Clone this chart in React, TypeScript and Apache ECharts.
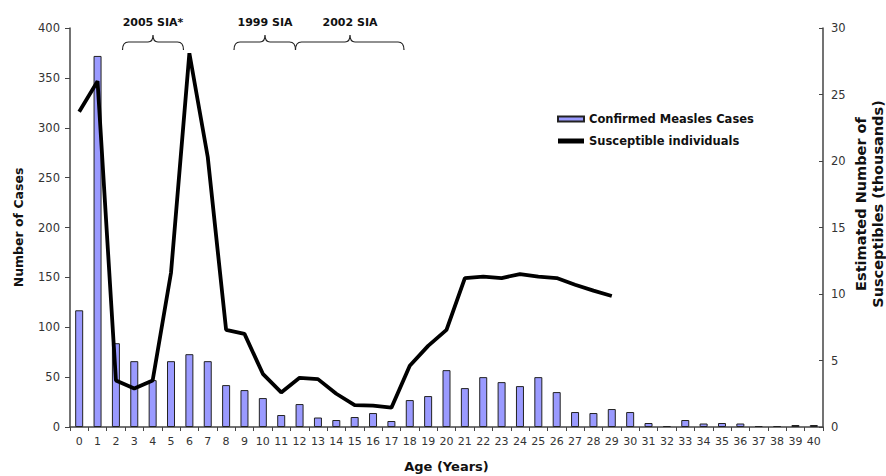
import React, { useEffect, useRef } from "react";
import * as echarts from "echarts";

// Age in years (x axis categories)
const ages: string[] = Array.from({ length: 41 }, (_, i) => String(i));

// Confirmed measles cases by age
const confirmedCases: number[] = [
  117, 372, 84, 66, 47, 66, 73, 66, 42, 37,
  29, 12, 23, 9.5, 7, 10, 14, 6, 27, 31,
  57, 39, 50, 45, 41, 50, 35, 15, 14, 18,
  15, 4, 1, 7, 3.5, 4, 3.5, 1, 1, 2, 2,
];

// Estimated susceptible individuals (thousands), ages 0–29
const susceptibles: (number | null)[] = [
  23.7, 26.0, 3.5, 2.9, 3.5, 11.6, 28.1, 20.3, 7.3, 7.0,
  4.0, 2.6, 3.7, 3.6, 2.5, 1.65, 1.6, 1.45, 4.6, 6.1,
  7.3, 11.2, 11.3, 11.2, 11.5, 11.3, 11.2, 10.7, 10.25, 9.85,
];

// Campaign annotations: label, brace start, tip, end (px)
const campaigns = [
  { label: "2005 SIA*", x1: 122.5, xm: 153, x2: 183.5 },
  { label: "1999 SIA", x1: 234, xm: 265, x2: 295.5 },
  { label: "2002 SIA", x1: 295.5, xm: 350, x2: 404 },
];

const RIGHT_TITLE = "Estimated Number of\nSusceptibles (thousands)";

const FONT = "'DejaVu Sans', 'Liberation Sans', Arial, sans-serif";

function bracePath(x1: number, xm: number, x2: number): string {
  const yEnd = 50;
  const yMid = 42;
  const yTip = 35;
  return (
    `M${x1} ${yEnd} Q${x1} ${yMid} ${x1 + 6} ${yMid} ` +
    `L${xm - 5} ${yMid} Q${xm} ${yMid} ${xm} ${yTip} ` +
    `Q${xm} ${yMid} ${xm + 5} ${yMid} ` +
    `L${x2 - 6} ${yMid} Q${x2} ${yMid} ${x2} ${yEnd}`
  );
}

campaigns.forEach((c, i) => {
  echarts.graphic.registerShape(
    `brace${i}`,
    echarts.graphic.extendPath(bracePath(c.x1, c.xm, c.x2), {}) as any
  );
});

export default function App() {
  const ref = useRef<HTMLDivElement>(null);

  useEffect(() => {
    document.body.style.margin = "0";
    document.body.style.overflow = "hidden";
    if (!ref.current) return;
    const chart = echarts.init(ref.current, undefined, { renderer: "svg" });

    const axisLine = { show: true, lineStyle: { color: "#444", width: 1.5 } };
    const axisLabel = { color: "#333", fontSize: 11.5, fontFamily: FONT };
    const nameStyle = {
      color: "#111",
      fontSize: 12.5,
      fontWeight: "bold" as const,
      fontFamily: FONT,
    };

    const graphics: any[] = [];
    campaigns.forEach((c, i) => {
      graphics.push({
        type: `brace${i}`,
        x: 0,
        y: 0,
        style: { fill: "none", stroke: "#222", lineWidth: 1.2 },
      });
      graphics.push({
        type: "text",
        x: c.xm,
        y: 22,
        style: {
          text: c.label,
          fill: "#111",
          font: `bold 11px ${FONT}`,
          textAlign: "center",
          textVerticalAlign: "middle",
        },
      });
    });

    // Right-hand axis title, two rotated lines
    graphics.push({
      type: "text",
      x: 869.5,
      y: 204,
      rotation: Math.PI / 2,
      style: {
        text: RIGHT_TITLE,
        fill: "#111",
        font: `bold 14.5px ${FONT}`,
        lineHeight: 17,
        textAlign: "center",
        textVerticalAlign: "middle",
      },
    });

    chart.setOption({
      animation: false,
      backgroundColor: "#ffffff",
      grid: {
        left: 70,
        right: 63,
        top: 28,
        bottom: 49,
        containLabel: false,
        outerBoundsMode: "none",
      },
      legend: {
        orient: "vertical",
        left: 557,
        top: 113,
        padding: 0,
        itemGap: 10,
        itemWidth: 26,
        itemHeight: 5,
        textStyle: {
          color: "#111",
          fontSize: 11.5,
          fontWeight: "bold",
          fontFamily: FONT,
        },
        data: [
          { name: "Confirmed Measles Cases", icon: "rect" },
          { name: "Susceptible individuals", icon: "rect" },
        ],
      },
      xAxis: {
        type: "category",
        data: ages,
        boundaryGap: true,
        name: "Age (Years)",
        nameLocation: "middle",
        nameGap: 33,
        nameTextStyle: { ...nameStyle, fontSize: 13 },
        axisLine,
        axisTick: { show: true, length: 4, lineStyle: { color: "#444" } },
        axisLabel: { ...axisLabel, fontSize: 11, interval: 0, margin: 9 },
        splitLine: { show: false },
      },
      yAxis: [
        {
          type: "value",
          min: 0,
          max: 400,
          interval: 50,
          name: "Number of Cases",
          nameLocation: "middle",
          nameGap: 45,
          nameRotate: 90,
          nameTextStyle: nameStyle,
          axisLine,
          axisTick: { show: true, length: 5, lineStyle: { color: "#444" } },
          axisLabel: { ...axisLabel, margin: 10 },
          splitLine: { show: false },
        },
        {
          type: "value",
          min: 0,
          max: 30,
          interval: 5,
          position: "right",
          axisLine,
          axisTick: {
            show: true,
            inside: true,
            length: 4,
            lineStyle: { color: "#444" },
          },
          axisLabel: { ...axisLabel, margin: 8 },
          splitLine: { show: false },
        },
      ],
      series: [
        {
          name: "Confirmed Measles Cases",
          type: "bar",
          yAxisIndex: 0,
          data: confirmedCases,
          barWidth: 8,
          itemStyle: { color: "#9a9aff", borderColor: "#222", borderWidth: 1 },
        },
        {
          name: "Susceptible individuals",
          type: "line",
          yAxisIndex: 1,
          data: susceptibles,
          symbol: "none",
          lineStyle: { color: "#000", width: 3.8 },
          itemStyle: { color: "#000" },
        },
      ],
      graphic: graphics,
    });

    return () => chart.dispose();
  }, []);

  return <div ref={ref} style={{ width: 886, height: 476 }} />;
}
